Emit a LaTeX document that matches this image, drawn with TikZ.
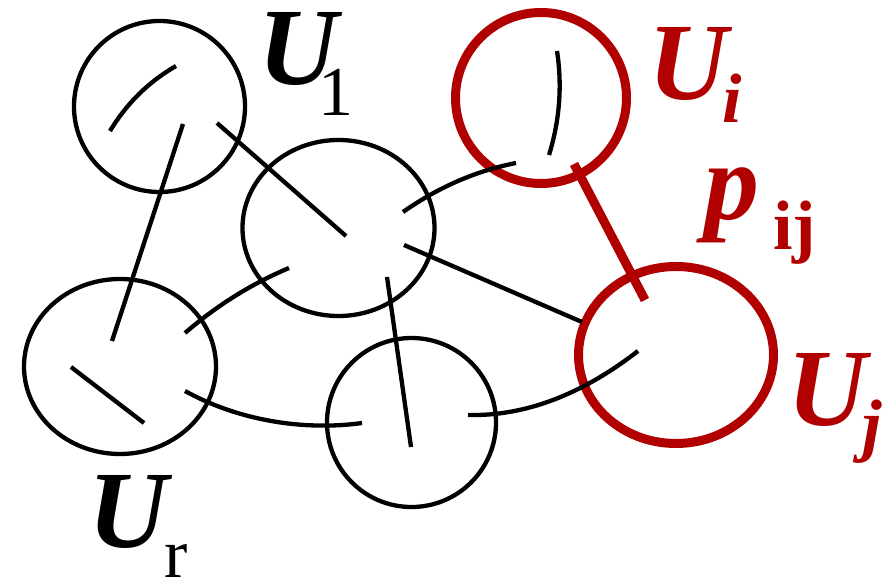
\documentclass[tikz,border=0pt]{standalone}
\usepackage{fontspec}
\setmainfont{Liberation Serif}
\newfontfamily\labfont{Liberation Serif}
\usepackage{xcolor}
\usepackage{tikz}
\usetikzlibrary{shapes.geometric,calc}
\definecolor{hired}{RGB}{176,0,0}

\begin{document}
\begin{tikzpicture}[x=1pt, y=-1pt, line width=4.3pt,
    user/.style={ellipse, draw, inner sep=0pt},
    sel/.style={draw=hired, line width=9pt},
    lab/.style={inner sep=0pt, anchor=base west, font=\labfont\fontsize{110}{110}\selectfont}]
    \useasboundingbox (0,0) rectangle (888,577);

    % users
    \node[user, minimum width=171pt, minimum height=171pt] (u1) at (159.5,106.5) {};
    \node[user, minimum width=192pt, minimum height=176pt] (um) at (338.5,228) {};
    \node[user, minimum width=192pt, minimum height=175pt] (ur) at (120,366.5) {};
    \node[user, minimum width=169pt, minimum height=169pt] (ub) at (411.5,422.5) {};
    \node[user, sel, minimum width=171pt, minimum height=171pt] (ui) at (541,98) {};
    \node[user, sel, minimum width=195pt, minimum height=177pt] (uj) at (676,355) {};

    % link ends
    \coordinate (a1) at (110,131);  \coordinate (a2) at (176,66);
    \coordinate (b1) at (183,124);  \coordinate (b2) at (112,341);
    \coordinate (c1) at (217,123);  \coordinate (c2) at (346,236);
    \coordinate (d1) at (403,212);  \coordinate (d2) at (516,163);
    \coordinate (e1) at (404,245);  \coordinate (e2) at (582,322);
    \coordinate (f1) at (387,277);  \coordinate (f2) at (411,447);
    \coordinate (g1) at (289,268);  \coordinate (g2) at (185,333);
    \coordinate (h1) at (185,391);  \coordinate (h2) at (362,423);
    \coordinate (k1) at (71,367);   \coordinate (k2) at (144,423);
    \coordinate (m1) at (468,415);  \coordinate (m2) at (638,351);
    \coordinate (n1) at (557,51);   \coordinate (n2) at (549,155);
    \coordinate (p1) at (574,164);  \coordinate (p2) at (645,300);

    % links
    \draw (a1) .. controls (126.7,103.3) and (148.7,81.7) .. (a2);
    \draw (b1) -- (b2);
    \draw (c1) -- (c2);
    \draw (d1) .. controls (438.7,187) and (476.3,170.7) .. (d2);
    \draw (e1) -- (e2);
    \draw (f1) -- (f2);
    \draw (g1) .. controls (251.7,283.7) and (217,305.3) .. (g2);
    \draw (h1) .. controls (245,424) and (312,430) .. (h2);
    \draw (k1) -- (k2);
    \draw (m1) .. controls (524.7,416.3) and (581.3,395) .. (m2);
    \draw (n1) .. controls (562.3,85.7) and (559.7,120.3) .. (n2);
    \draw[sel] (p1) -- (p2);

    % labels
    \node[lab] (l1) at (256,85) {\textbf{\textit{U}}\kern-24pt\raisebox{-31pt}{\fontsize{70}{70}\selectfont 1}};
    \node[lab] (lr) at (86,547) {\textbf{\textit{U}}\kern-8pt\raisebox{-30pt}{\fontsize{70}{70}\selectfont r}};
    \node[lab, text=hired] (li) at (646,100) {\textbf{\textit{U}}\kern-10pt\raisebox{-23pt}{\fontsize{70}{70}\selectfont\bfseries\itshape i}};
    \node[lab, text=hired] (lj) at (785,425) {\textbf{\textit{U}}\kern-9pt\raisebox{-23pt}{\fontsize{70}{70}\selectfont\bfseries\itshape j}};
    \node[lab, text=hired] (lp) at (702,220) {\textbf{\textit{p}}\kern14pt\raisebox{-30pt}{\fontsize{70}{70}\selectfont\bfseries ij}};
\end{tikzpicture}
\end{document}
